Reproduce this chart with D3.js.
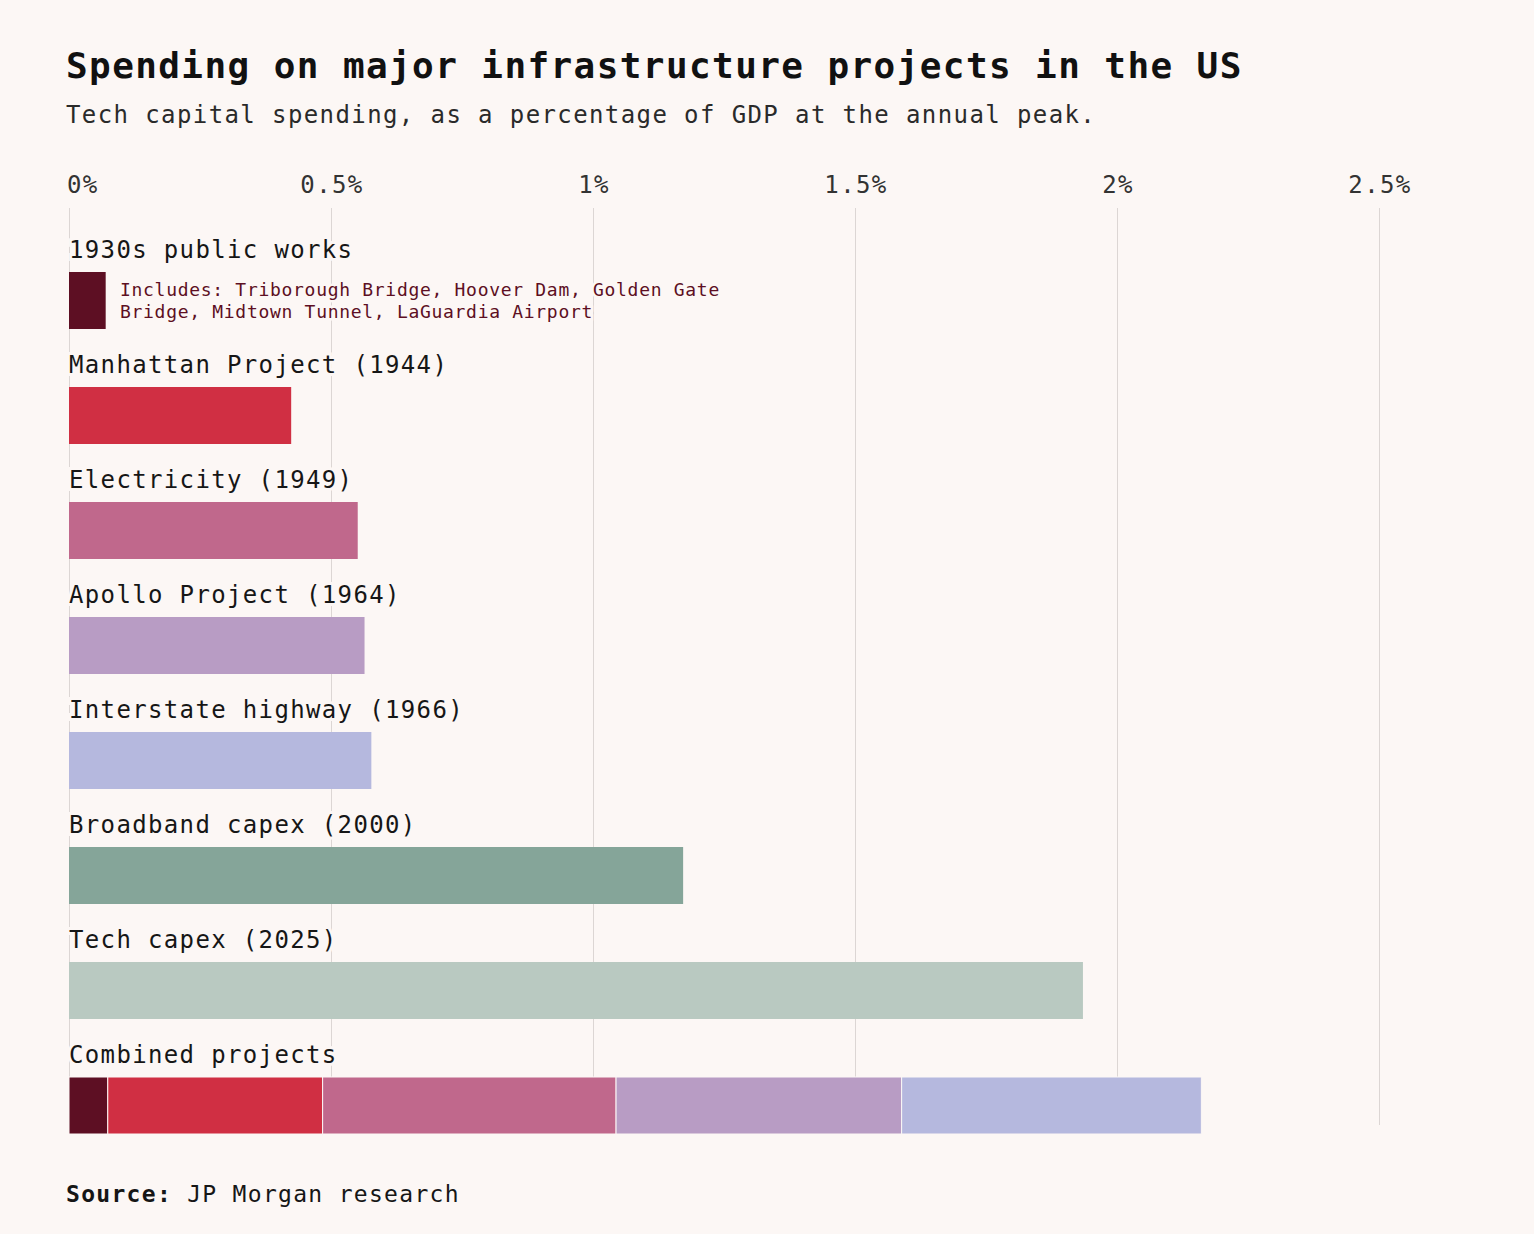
<!DOCTYPE html>
<html>
<head>
<meta charset="utf-8">
<script src="https://cdn.jsdelivr.net/npm/d3@7"></script>
<style>
  body { margin: 0; background: #fcf7f5; }
  svg text { font-family: "DejaVu Sans Mono", "Liberation Mono", monospace; }
</style>
</head>
<body>
<div class="graph"></div>
<script>
// data (percent of GDP at annual peak)
var projects = ['1930s public works', 'Manhattan Project (1944)', 'Electricity (1949)',
  'Apollo Project (1964)', 'Interstate highway (1966)', 'Broadband capex (2000)',
  'Tech capex (2025)', 'Combined projects'];
var projectValues = [0.07, 0.424, 0.551, 0.564, 0.577, 1.172, 1.935];
var projectColors = ['#5d0f23', '#d02f43', '#c0688c', '#b89cc4', '#b5b8de', '#85a599', '#b9c9c1'];
// the combined bar stacks the first five projects
var combinedValues = [0.074, 0.41, 0.56, 0.545, 0.572];
var tickValues = [0, 0.5, 1, 1.5, 2, 2.5];
var tickLabels = ['0%', '0.5%', '1%', '1.5%', '2%', '2.5%'];
var noteLines = ['Includes: Triborough Bridge, Hoover Dam, Golden Gate',
  'Bridge, Midtown Tunnel, LaGuardia Airport'];

var WIDTH = 1534, HEIGHT = 1234;
var bg = '#fcf7f5';

var svg = d3.select('.graph')
  .append('svg')
  .attr('width', WIDTH)
  .attr('height', HEIGHT)
  .style('display', 'block');

svg.append('rect').attr('width', WIDTH).attr('height', HEIGHT).attr('fill', bg);

var x = d3.scaleLinear().domain([0, 2.5]).range([69, 1379]);
// one row per project, label sits above the bar
var rowTop = d3.scaleLinear().domain([0, 1]).range([272, 387]);
var barHeight = 57;

// title + subtitle
svg.append('text')
  .attr('x', 66).attr('y', 78)
  .attr('font-size', 36).attr('font-weight', 'bold')
  .attr('letter-spacing', 1.4)
  .attr('fill', '#111')
  .text('Spending on major infrastructure projects in the US');

svg.append('text')
  .attr('x', 66).attr('y', 123)
  .attr('font-size', 24).attr('letter-spacing', 1.4)
  .attr('fill', '#2a2a2a')
  .text('Tech capital spending, as a percentage of GDP at the annual peak.');

// grid lines
svg.append('g').selectAll('line')
  .data(tickValues)
  .enter()
  .append('line')
  .attr('x1', function(d) { return Math.round(x(d)) + 0.5; })
  .attr('x2', function(d) { return Math.round(x(d)) + 0.5; })
  .attr('y1', 208).attr('y2', 1125)
  .attr('stroke', '#dcd6d4').attr('stroke-width', 1);

// tick labels (first one left aligned)
svg.append('g').selectAll('text')
  .data(tickValues)
  .enter()
  .append('text')
  .attr('x', function(d, i) { return i === 0 ? x(d) - 2 : x(d) + 1; })
  .attr('y', 193)
  .attr('text-anchor', function(d, i) { return i === 0 ? 'start' : 'middle'; })
  .attr('font-size', 24).attr('letter-spacing', 1.4)
  .attr('fill', '#333')
  .text(function(d, i) { return tickLabels[i]; });

// single bars
svg.append('g').selectAll('rect')
  .data(projectValues)
  .enter()
  .append('rect')
  .attr('x', x(0))
  .attr('y', function(d, i) { return rowTop(i); })
  .attr('width', function(d) { return x(d) - x(0); })
  .attr('height', barHeight)
  .attr('fill', function(d, i) { return projectColors[i]; });

// combined bar
var stacked = [];
var acc = 0;
combinedValues.forEach(function(v, i) {
  stacked.push({x0: acc, x1: acc + v, color: projectColors[i]});
  acc += v;
});
svg.append('g').selectAll('rect')
  .data(stacked)
  .enter()
  .append('rect')
  .attr('x', function(d) { return x(d.x0); })
  .attr('y', rowTop(projects.length - 1))
  .attr('width', function(d) { return x(d.x1) - x(d.x0); })
  .attr('height', barHeight)
  .attr('fill', function(d) { return d.color; })
  .attr('stroke', bg).attr('stroke-width', 1);

// row labels, haloed so grid lines break behind them
svg.append('g').selectAll('text')
  .data(projects)
  .enter()
  .append('text')
  .attr('x', 69)
  .attr('y', function(d, i) { return rowTop(i) - 14; })
  .attr('font-size', 24).attr('letter-spacing', 1.35)
  .attr('fill', '#161616')
  .attr('stroke', bg).attr('stroke-width', 6)
  .attr('paint-order', 'stroke')
  .text(function(d) { return d; });

// note next to the 1930s bar
svg.append('g').selectAll('text')
  .data(noteLines)
  .enter()
  .append('text')
  .attr('x', 120)
  .attr('y', function(d, i) { return 296 + i * 22; })
  .attr('font-size', 18).attr('letter-spacing', 0.7)
  .attr('fill', '#5d0f23')
  .attr('stroke', bg).attr('stroke-width', 5)
  .attr('paint-order', 'stroke')
  .text(function(d) { return d; });

// source
var src = svg.append('text')
  .attr('x', 66).attr('y', 1202)
  .attr('font-size', 23).attr('letter-spacing', 1.3)
  .attr('fill', '#161616');
src.append('tspan').attr('font-weight', 'bold').text('Source:');
src.append('tspan').text(' JP Morgan research');
</script>
</body>
</html>
